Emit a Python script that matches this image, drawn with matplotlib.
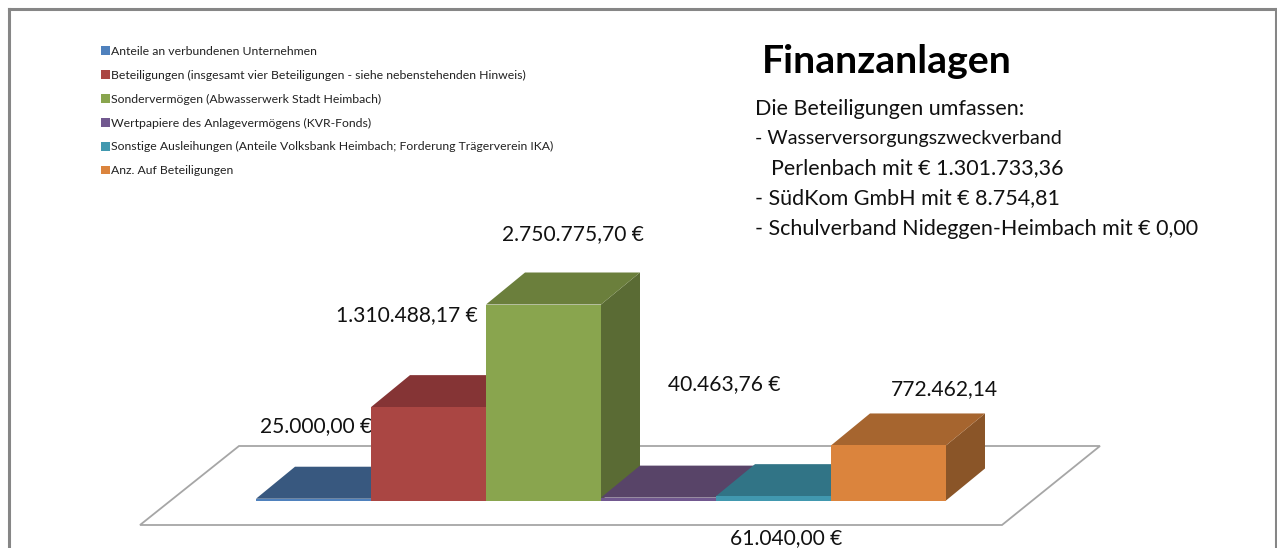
import matplotlib
matplotlib.use("Agg")
import matplotlib.pyplot as plt
from matplotlib.patches import Polygon

plt.rcParams['font.family'] = ['Lato', 'DejaVu Sans']

# ----------------------------
# Daten
# ----------------------------
categories = [
    "Anteile an verbundenen Unternehmen",
    "Beteiligungen (insgesamt vier Beteiligungen - siehe nebenstehenden Hinweis)",
    "Sondervermögen (Abwasserwerk Stadt Heimbach)",
    "Wertpapiere des Anlagevermögens (KVR-Fonds)",
    "Sonstige Ausleihungen (Anteile Volksbank Heimbach; Forderung Trägerverein IKA)",
    "Anz. Auf Beteiligungen",
]
values = [25000.00, 1310488.17, 2750775.70, 40463.76, 61040.00, 772462.14]
value_labels = ["25.000,00 €", "1.310.488,17 €", "2.750.775,70 €",
                "40.463,76 €", "61.040,00 €", "772.462,14"]
title = "Finanzanlagen"
note_lines = ["Die Beteiligungen umfassen:",
              "- Wasserversorgungszweckverband",
              "Perlenbach mit € 1.301.733,36",
              "- SüdKom GmbH mit € 8.754,81",
              "- Schulverband Nideggen-Heimbach mit € 0,00"]

# Farben: Front, Oberseite, Seite
front_colors = ['#4F81BD', '#AA4643', '#89A54E', '#71588F', '#4198AF', '#DB843D']
top_colors = ['#38587F', '#853435', '#6B7F3C', '#584468', '#317486', '#A6652F']
side_colors = ['#2F4A6B', '#6E2B2C', '#5A6B34', '#4A3858', '#296170', '#8A5528']

# ----------------------------
# Layout (Pixel des Bildes)
# ----------------------------
W, H = 1277, 548
frame_left, frame_right, frame_top = 8.5, 1275.5, 8.5
bar_px = 115.0          # Balkenbreite
first_px = 313.5        # Mitte des ersten Balkens
base_px = 500.5         # Nulllinie
px_per_euro = 196.0 / values[2]
depth_dx = 39 / bar_px
depth_dy = 32 / px_per_euro


def x_data(px):
    return (px - first_px) / bar_px


def y_data(px):
    return (base_px - px) / px_per_euro


fig = plt.figure(figsize=(W / 100, H / 100), dpi=100)
ax = fig.add_axes([frame_left / W, 0, (frame_right - frame_left) / W, (H - frame_top) / H])
ax.set_xlim(x_data(frame_left), x_data(frame_right))
ax.set_ylim(y_data(H), y_data(frame_top))
ax.set_xticks([])
ax.set_yticks([])
for name in ['top', 'left', 'right']:
    ax.spines[name].set_color('#868686')
    ax.spines[name].set_linewidth(2.2)
ax.spines['bottom'].set_visible(False)

# Bodenplatte
floor = [(x_data(140), y_data(525)), (x_data(1002), y_data(525)),
         (x_data(1100), y_data(446)), (x_data(239), y_data(446))]
ax.add_patch(Polygon(floor, closed=True, facecolor='white', edgecolor='#A6A6A6',
                     linewidth=1.3, zorder=1))


def text_px(x, y, s, **kw):
    # Position in Bildpixeln, y ist die Grundlinie
    return ax.text(x / W, 1 - y / H, s, transform=fig.transFigure, va='baseline',
                   color='#111111', **kw)


# Wertebeschriftungen liegen hinter den Balken
label_pos = [(260, 432), (336, 321), (502, 240), (668, 390), (730, 544), (891, 395)]
for (lx, ly), s in zip(label_pos, value_labels):
    text_px(lx, ly, s, fontsize=15.1, zorder=2)

# Balken von links nach rechts
for i, v in enumerate(values):
    z = 3 + i
    ax.bar(i, v, width=1.0, color=front_colors[i], label=categories[i], zorder=z + 0.5)
    l, r = i - 0.5, i + 0.5
    ax.add_patch(Polygon([(l, v), (r, v), (r + depth_dx, v + depth_dy), (l + depth_dx, v + depth_dy)],
                         closed=True, facecolor=top_colors[i], edgecolor='none', zorder=z + 0.2))
    ax.add_patch(Polygon([(r, 0), (r, v), (r + depth_dx, v + depth_dy), (r + depth_dx, depth_dy)],
                         closed=True, facecolor=side_colors[i], edgecolor='none', zorder=z))

# Legende
ax.legend(loc='upper left', bbox_to_anchor=((97 - frame_left) / (frame_right - frame_left),
                                            (H - 42) / (H - frame_top)),
          frameon=False, fontsize=8.85, handlelength=0.72, handleheight=0.72,
          handletextpad=0.1, labelspacing=1.05, borderpad=0.3, borderaxespad=0,
          labelcolor='#222222')

# Titel und Hinweis
ax.text(762 / W, 1 - 73 / H, title, transform=fig.transFigure, va='baseline',
        fontsize=28.3, fontweight='bold', color='black')
note_pos = [(755, 115), (755, 144), (771, 174), (755, 204), (755, 235)]
note_sizes = [15.5, 14.1, 15.5, 15.5, 15.5]
for (nx, ny), s, fs in zip(note_pos, note_lines, note_sizes):
    text_px(nx, ny, s, fontsize=fs)

fig.savefig("out.png", dpi=100, facecolor='white')
